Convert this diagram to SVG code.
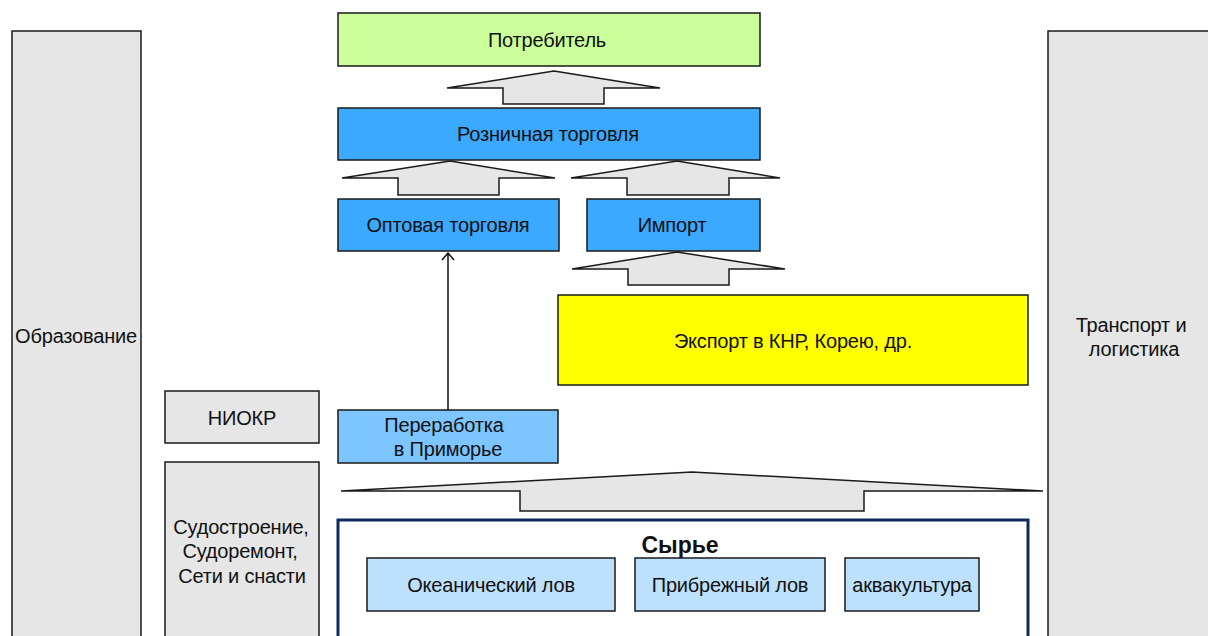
<svg xmlns="http://www.w3.org/2000/svg" width="1208" height="636" viewBox="0 0 1208 636">
  <style>
    .box { stroke: #1a1a1a; stroke-width: 1.5; }
    .grey { fill: #e6e6e6; }
    .blue { fill: #3aa9ff; }
    .lblue { fill: #7cc5ff; }
    .pale { fill: #bde0fd; }
    .green { fill: #ccff99; }
    .yellow { fill: #ffff00; }
    .flow { fill: #e6e6e6; stroke: #1a1a1a; stroke-width: 1.5; stroke-linejoin: miter; }
    text { font-family: "Liberation Sans", Arial, sans-serif; font-size: 20px; fill: #111; text-anchor: middle; letter-spacing: -0.2px; }
    .title { font-weight: bold; font-size: 23px; letter-spacing: 0; }
  </style>
  <defs>
    <marker id="open-head" markerWidth="14" markerHeight="14" refX="13" refY="7" orient="auto" markerUnits="userSpaceOnUse">
      <path d="M6,1 L13,7 L6,13" fill="none" stroke="#111" stroke-width="1.5"/>
    </marker>
  </defs>
  <rect width="1208" height="636" fill="#ffffff"/>

  <!-- side columns -->
  <g id="obrazovanie">
    <rect class="box grey" x="12" y="31" width="129" height="620"/>
    <text x="76" y="343">Образование</text>
  </g>
  <g id="transport">
    <rect class="box grey" x="1048" y="31" width="170" height="620"/>
    <text x="1131" y="332">Транспорт и</text>
    <text x="1134" y="356">логистика</text>
  </g>
  <g id="niokr">
    <rect class="box grey" x="165" y="391" width="154" height="52"/>
    <text x="242" y="425">НИОКР</text>
  </g>
  <g id="sudostroenie">
    <rect class="box grey" x="165" y="462" width="154" height="190"/>
    <text x="241" y="534">Судостроение,</text>
    <text x="240" y="558">Судоремонт,</text>
    <text x="242" y="583">Сети и снасти</text>
  </g>

  <!-- value chain -->
  <g id="potrebitel">
    <rect class="box green" x="338" y="13" width="422" height="53"/>
    <text x="547" y="47">Потребитель</text>
  </g>
  <g id="roznica">
    <rect class="box blue" x="338" y="108" width="422" height="52"/>
    <text x="548" y="141">Розничная торговля</text>
  </g>
  <g id="optovaya">
    <rect class="box blue" x="338" y="199" width="221" height="52"/>
    <text x="448" y="232">Оптовая торговля</text>
  </g>
  <g id="import">
    <rect class="box blue" x="587" y="199" width="173" height="52"/>
    <text x="672" y="232">Импорт</text>
  </g>
  <g id="export">
    <rect class="box yellow" x="558" y="295" width="470" height="90"/>
    <text x="793" y="348">Экспорт в КНР, Корею, др.</text>
  </g>
  <g id="pererabotka">
    <rect class="box lblue" x="338" y="410" width="220" height="53"/>
    <text x="444" y="432">Переработка</text>
    <text x="448" y="456">в Приморье</text>
  </g>
  <g id="syrie">
    <rect x="338" y="520" width="690" height="140" fill="#ffffff" stroke="#0f2a5e" stroke-width="3"/>
    <text class="title" x="680" y="553">Сырье</text>
  </g>
  <g id="okeanicheskiy">
    <rect class="box pale" x="367" y="558" width="248" height="53"/>
    <text x="491" y="592">Океанический лов</text>
  </g>
  <g id="pribrezhniy">
    <rect class="box pale" x="635" y="558" width="190" height="53"/>
    <text x="730" y="592">Прибрежный лов</text>
  </g>
  <g id="akvakultura">
    <rect class="box pale" x="845" y="558" width="134" height="53"/>
    <text x="912" y="592">аквакультура</text>
  </g>

  <!-- connectors -->
  <g id="connectors">
    <polygon class="flow" points="554,71 660,88 604,88 604,104 503,104 503,88 447,88"/>
    <polygon class="flow" points="450,161 555,178 499,178 499,195 398,195 398,178 342,178"/>
    <polygon class="flow" points="677,161 780,178 729,178 729,195 627,195 627,178 571,178"/>
    <polygon class="flow" points="677,252 785,269 729,269 729,285 628,285 628,269 572,269"/>
    <polygon class="flow" points="692,472 1043,491 864,491 864,511 520,511 520,491 341,491"/>
    <line x1="448" y1="410" x2="448" y2="253" stroke="#111" stroke-width="1.5" marker-end="url(#open-head)"/>
  </g>
</svg>
